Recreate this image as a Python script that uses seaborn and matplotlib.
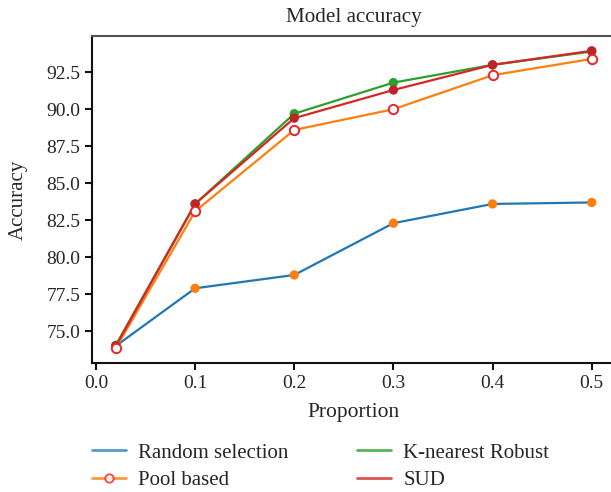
import matplotlib
matplotlib.use("Agg")
import matplotlib.pyplot as plt
from matplotlib.lines import Line2D
import seaborn as sns
import pandas as pd

proportion = [0.02, 0.1, 0.2, 0.3, 0.4, 0.5]
random_sel = [74.0, 77.9, 78.8, 82.3, 83.6, 83.7]
pool_based = [73.85, 83.1, 88.6, 90.0, 92.3, 93.4]
knn_robust = [74.05, 83.6, 89.7, 91.8, 93.0, 93.9]
sud = [74.0, 83.6, 89.4, 91.3, 93.0, 93.95]
series_names = ["Random selection", "Pool based", "K-nearest Robust", "SUD"]

sns.set_style("ticks")
plt.rcParams['font.family'] = ['Liberation Serif', 'DejaVu Serif']
plt.rcParams['font.size'] = 14

BLUE, ORANGE, GREEN, RED = "#1f77b4", "#ff7f0e", "#2ca02c", "#d62728"
DARKRED = "#bf2228"

fig = plt.figure(figsize=(6.11, 4.92), dpi=100)
ax = fig.add_axes([92/611, 1-363/492, (615.5-92)/611, (363-36)/492])

df = pd.DataFrame({"x": proportion, "Random": random_sel, "Pool": pool_based,
                   "KNN": knn_robust, "SUD": sud})
lw = 1.6
sns.lineplot(data=df, x="x", y="Random", ax=ax, color=BLUE, lw=lw)
sns.scatterplot(data=df, x="x", y="Random", ax=ax, color=ORANGE, s=45, edgecolor="none", zorder=3)
sns.lineplot(data=df, x="x", y="Pool", ax=ax, color=ORANGE, lw=lw)
sns.lineplot(data=df, x="x", y="KNN", ax=ax, color=GREEN, lw=lw)
sns.scatterplot(data=df, x="x", y="KNN", ax=ax, color=GREEN, s=45, edgecolor="none", zorder=3)
sns.lineplot(data=df, x="x", y="SUD", ax=ax, color=RED, lw=lw)
sns.scatterplot(data=df, x="x", y="SUD", ax=ax, color=DARKRED, s=45, edgecolor="none", zorder=4)
sns.scatterplot(data=df, x="x", y="Pool", ax=ax, color="white", s=45, edgecolor="#e8262a",
                linewidth=1.4, zorder=5)

ax.set_xlim(-0.004, 0.524)
ax.set_ylim(72.85, 94.95)
ax.set_xticks([0.0, 0.1, 0.2, 0.3, 0.4, 0.5])
ax.set_yticks([75.0, 77.5, 80.0, 82.5, 85.0, 87.5, 90.0, 92.5])
ax.set_yticklabels(["75.0", "77.5", "80.0", "82.5", "85.0", "87.5", "90.0", "92.5"])
ax.tick_params(labelsize=14, length=5, width=1.5, color="#111111")
for s in ["left", "bottom"]:
    ax.spines[s].set_linewidth(1.5)
    ax.spines[s].set_color("#111111")
ax.spines["top"].set_linewidth(1.5)
ax.spines["top"].set_color("#555555")
ax.spines["right"].set_linewidth(1.5)
ax.spines["right"].set_color("#555555")

ax.set_title("Model accuracy", fontsize=15.2, pad=10)
ax.set_xlabel("Proportion", fontsize=15.5, labelpad=8)
ax.set_ylabel("Accuracy", fontsize=15, labelpad=13)

handles = [
    Line2D([], [], color=BLUE, lw=2, alpha=0.75),
    Line2D([], [], color=ORANGE, lw=2, alpha=0.8, marker="o", markerfacecolor="white",
           markeredgecolor="#e8262a", markersize=6, markeredgewidth=1.4),
    Line2D([], [], color=GREEN, lw=2, alpha=0.8),
    Line2D([], [], color=RED, lw=2, alpha=0.8),
]
fig.legend(handles, series_names, loc="center left", bbox_to_anchor=(92/611, 1-466.5/492),
           ncol=2, frameon=False, fontsize=15, handlelength=1.63, borderpad=0,
           borderaxespad=0, columnspacing=3.3, labelspacing=0.38, handletextpad=0.58)

fig.savefig("out.png", dpi=100)
